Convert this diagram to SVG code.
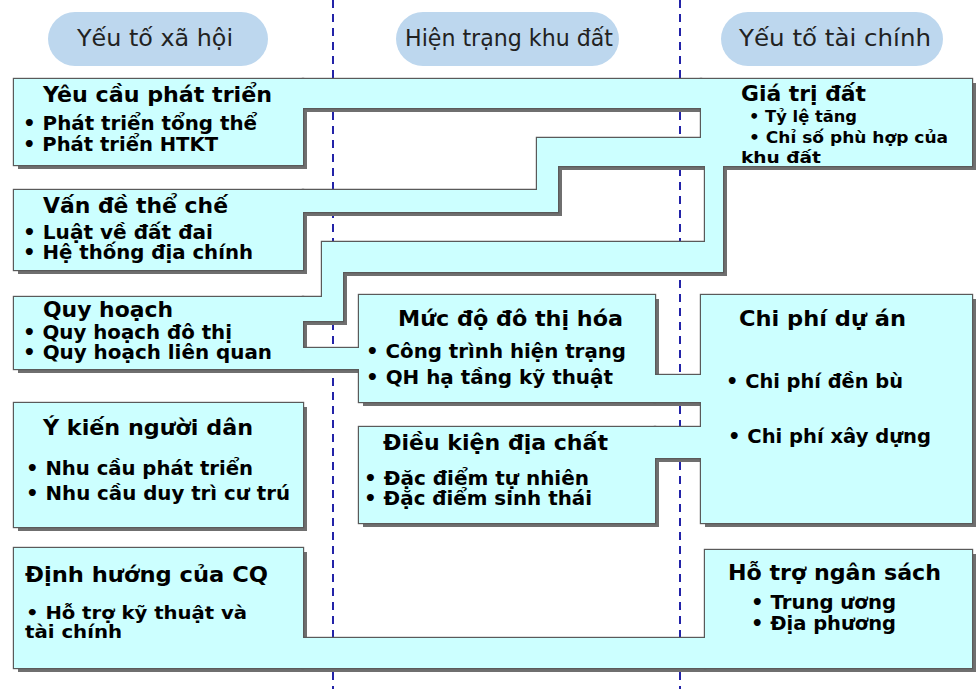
<svg xmlns="http://www.w3.org/2000/svg" xmlns:xlink="http://www.w3.org/1999/xlink" width="976" height="689" viewBox="0 0 976 689">
<style>
.fill{fill:#ccffff;stroke:none}
.h{font-family:"DejaVu Sans","Liberation Sans",sans-serif;font-size:23px;fill:#222}
.t{font-family:"DejaVu Sans","Liberation Sans",sans-serif;font-size:21px;font-weight:bold;fill:#000}
.b{font-family:"DejaVu Sans","Liberation Sans",sans-serif;font-size:19px;font-weight:bold;fill:#000}
.bs{font-family:"DejaVu Sans","Liberation Sans",sans-serif;font-size:17px;font-weight:bold;fill:#000}
.s{font-family:"DejaVu Sans","Liberation Sans",sans-serif;font-size:16px;font-weight:bold;fill:#000}
.pill{fill:#bdd7ee}
.guide{stroke:#2323a8;stroke-width:2;stroke-dasharray:8 6;fill:none}
</style>
<defs>
<rect id="s-yeucau" x="14" y="79" width="289" height="86"/>
<rect id="s-vande" x="14" y="190" width="289" height="80"/>
<rect id="s-quyhoach" x="14" y="297" width="289" height="72"/>
<rect id="s-ykien" x="14" y="403" width="289" height="124"/>
<rect id="s-dinhhuong" x="14" y="548" width="289" height="120"/>
<rect id="s-mucdo" x="359" y="295" width="296" height="107"/>
<rect id="s-dieukien" x="359" y="427" width="296" height="96"/>
<rect id="s-giatri" x="701" y="79" width="271" height="87"/>
<rect id="s-chiphi" x="701" y="295" width="271" height="228"/>
<rect id="s-hotro" x="705" y="550" width="267" height="118"/>
<rect id="c-a" x="303" y="79" width="398" height="29"/>
<polygon id="c-b" points="303,190 537,190 537,138 701,138 701,166 558,166 558,212 303,212"/>
<polygon id="c-c" points="322,242 705,242 705,166 723,166 723,272 343,272 343,321 303,321 303,297 322,297"/>
<rect id="c-q" x="303" y="348" width="56" height="21"/>
<rect id="c-m" x="655" y="375" width="46" height="27"/>
<rect id="c-d" x="655" y="427" width="46" height="31"/>
<rect id="c-h" x="303" y="638" width="402" height="30"/>
</defs>
<rect x="0" y="0" width="976" height="689" fill="#ffffff"/>
<g id="guides">
<line class="guide" x1="333" y1="0" x2="333" y2="689"/>
<line class="guide" x1="680" y1="0" x2="680" y2="689"/>
</g>
<g id="header-xahoi"><rect class="pill" x="48" y="12" width="220" height="54" rx="27"/><text class="h" x="77" y="46" textLength="156" lengthAdjust="spacingAndGlyphs">Yếu tố xã hội</text></g>
<g id="header-hientrang"><rect class="pill" x="396" y="12" width="223" height="54" rx="27"/><text class="h" x="405" y="46" textLength="208" lengthAdjust="spacingAndGlyphs">Hiện trạng khu đất</text></g>
<g id="header-taichinh"><rect class="pill" x="721" y="12" width="222" height="54" rx="27"/><text class="h" x="739" y="46" textLength="192" lengthAdjust="spacingAndGlyphs">Yếu tố tài chính</text></g>
<g id="shadows" fill="#6f6f6f" transform="translate(4,4)">
<use xlink:href="#s-yeucau"/><use xlink:href="#s-vande"/><use xlink:href="#s-quyhoach"/><use xlink:href="#s-ykien"/><use xlink:href="#s-dinhhuong"/>
<use xlink:href="#s-mucdo"/><use xlink:href="#s-dieukien"/><use xlink:href="#s-giatri"/><use xlink:href="#s-chiphi"/><use xlink:href="#s-hotro"/>
<use xlink:href="#c-a"/><use xlink:href="#c-b"/><use xlink:href="#c-c"/><use xlink:href="#c-q"/><use xlink:href="#c-m"/><use xlink:href="#c-d"/><use xlink:href="#c-h"/>
</g>
<g id="outlines" fill="none" stroke="#5a5a5a" stroke-width="2.4">
<use xlink:href="#s-yeucau"/><use xlink:href="#s-vande"/><use xlink:href="#s-quyhoach"/><use xlink:href="#s-ykien"/><use xlink:href="#s-dinhhuong"/>
<use xlink:href="#s-mucdo"/><use xlink:href="#s-dieukien"/><use xlink:href="#s-giatri"/><use xlink:href="#s-chiphi"/><use xlink:href="#s-hotro"/>
<use xlink:href="#c-a"/><use xlink:href="#c-b"/><use xlink:href="#c-c"/><use xlink:href="#c-q"/><use xlink:href="#c-m"/><use xlink:href="#c-d"/><use xlink:href="#c-h"/>
</g>
<g id="connectors">
<use class="fill" xlink:href="#c-a"/><use class="fill" xlink:href="#c-b"/><use class="fill" xlink:href="#c-c"/><use class="fill" xlink:href="#c-q"/><use class="fill" xlink:href="#c-m"/><use class="fill" xlink:href="#c-d"/><use class="fill" xlink:href="#c-h"/>
</g>
<g id="node-yeucau"><use class="fill" xlink:href="#s-yeucau"/>
<text class="t" x="43" y="102" textLength="229" lengthAdjust="spacingAndGlyphs">Yêu cầu phát triển</text>
<text class="b" x="23" y="130" textLength="234" lengthAdjust="spacingAndGlyphs">• Phát triển tổng thể</text>
<text class="b" x="23" y="151" textLength="195" lengthAdjust="spacingAndGlyphs">• Phát triển HTKT</text></g>
<g id="node-vande"><use class="fill" xlink:href="#s-vande"/>
<text class="t" x="43" y="213" textLength="185" lengthAdjust="spacingAndGlyphs">Vấn đề thể chế</text>
<text class="b" x="23" y="239" textLength="190" lengthAdjust="spacingAndGlyphs">• Luật về đất đai</text>
<text class="b" x="23" y="259" textLength="230" lengthAdjust="spacingAndGlyphs">• Hệ thống địa chính</text></g>
<g id="node-quyhoach"><use class="fill" xlink:href="#s-quyhoach"/>
<text class="t" x="43" y="317" textLength="130" lengthAdjust="spacingAndGlyphs">Quy hoạch</text>
<text class="b" x="23" y="339" textLength="209" lengthAdjust="spacingAndGlyphs">• Quy hoạch đô thị</text>
<text class="b" x="23" y="359" textLength="249" lengthAdjust="spacingAndGlyphs">• Quy hoạch liên quan</text></g>
<g id="node-ykien"><use class="fill" xlink:href="#s-ykien"/>
<text class="t" x="43" y="435" textLength="210" lengthAdjust="spacingAndGlyphs">Ý kiến người dân</text>
<text class="b" x="26" y="475" textLength="227" lengthAdjust="spacingAndGlyphs">• Nhu cầu phát triển</text>
<text class="b" x="26" y="500" textLength="264" lengthAdjust="spacingAndGlyphs">• Nhu cầu duy trì cư trú</text></g>
<g id="node-dinhhuong"><use class="fill" xlink:href="#s-dinhhuong"/>
<text class="t" x="25" y="582" textLength="243" lengthAdjust="spacingAndGlyphs">Định hướng của CQ</text>
<text class="bs" x="26" y="619" textLength="221" lengthAdjust="spacingAndGlyphs">• Hỗ trợ kỹ thuật và</text>
<text class="bs" x="25" y="638" textLength="97" lengthAdjust="spacingAndGlyphs">tài chính</text></g>
<g id="node-mucdo"><use class="fill" xlink:href="#s-mucdo"/>
<text class="t" x="398" y="326" textLength="225" lengthAdjust="spacingAndGlyphs">Mức độ đô thị hóa</text>
<text class="b" x="366" y="358" textLength="260" lengthAdjust="spacingAndGlyphs">• Công trình hiện trạng</text>
<text class="b" x="366" y="384" textLength="247" lengthAdjust="spacingAndGlyphs">• QH hạ tầng kỹ thuật</text></g>
<g id="node-dieukien"><use class="fill" xlink:href="#s-dieukien"/>
<text class="t" x="383" y="450" textLength="225" lengthAdjust="spacingAndGlyphs">Điều kiện địa chất</text>
<text class="b" x="364" y="485" textLength="225" lengthAdjust="spacingAndGlyphs">• Đặc điểm tự nhiên</text>
<text class="b" x="364" y="505" textLength="228" lengthAdjust="spacingAndGlyphs">• Đặc điểm sinh thái</text></g>
<g id="node-giatri"><use class="fill" xlink:href="#s-giatri"/>
<text class="t" x="741" y="101" textLength="125" lengthAdjust="spacingAndGlyphs">Giá trị đất</text>
<text class="s" x="749" y="122" textLength="108" lengthAdjust="spacingAndGlyphs">• Tỷ lệ tăng</text>
<text class="s" x="749" y="143" textLength="199" lengthAdjust="spacingAndGlyphs">• Chỉ số phù hợp của</text>
<text class="s" x="741" y="163" textLength="80" lengthAdjust="spacingAndGlyphs">khu đất</text></g>
<g id="node-chiphi"><use class="fill" xlink:href="#s-chiphi"/>
<text class="t" x="739" y="326" textLength="167" lengthAdjust="spacingAndGlyphs">Chi phí dự án</text>
<text class="b" x="726" y="388" textLength="177" lengthAdjust="spacingAndGlyphs">• Chi phí đền bù</text>
<text class="b" x="728" y="443" textLength="203" lengthAdjust="spacingAndGlyphs">• Chi phí xây dựng</text></g>
<g id="node-hotro"><use class="fill" xlink:href="#s-hotro"/>
<text class="t" x="728" y="580" textLength="213" lengthAdjust="spacingAndGlyphs">Hỗ trợ ngân sách</text>
<text class="b" x="751" y="609" textLength="145" lengthAdjust="spacingAndGlyphs">• Trung ương</text>
<text class="b" x="751" y="630" textLength="145" lengthAdjust="spacingAndGlyphs">• Địa phương</text></g>
</svg>
